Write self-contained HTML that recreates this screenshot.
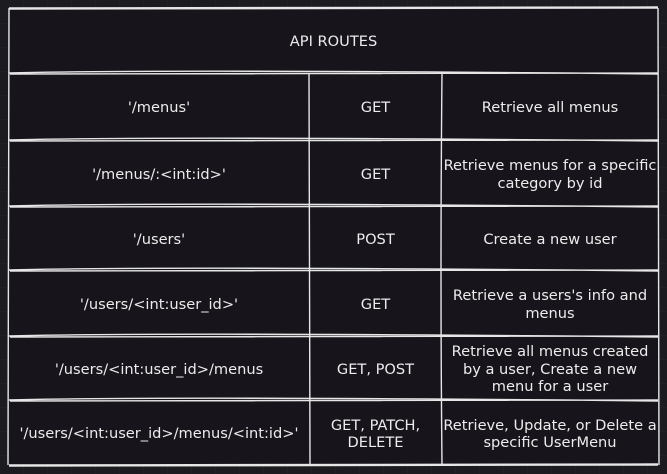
<!DOCTYPE html>
<html><head><style>
html,body{margin:0;padding:0;background:#1c1b20;width:667px;height:474px;overflow:hidden}
.c{position:absolute;display:flex;align-items:center;justify-content:center;text-align:center;color:#ececec;font:14.6px/17.5px "DejaVu Sans",sans-serif;white-space:nowrap;padding-top:3px;box-sizing:border-box}
</style></head><body>
<svg width="667" height="474" style="position:absolute;left:0;top:0">
<defs><pattern id="g" width="24" height="24" patternUnits="userSpaceOnUse"><path d="M24 0V24H0" fill="none" stroke="#26252b" stroke-width="1"/></pattern></defs>
<rect width="667" height="474" fill="url(#g)"/>
<rect x="9" y="8" width="649" height="457" fill="#17151b"/>
<g stroke="#e6e6e6" stroke-width="1.4" fill="none">
<path d="M9 8 L658 7 M9 9 L658 8"/>
<path d="M9 8 L8 465 M658 8 L659 465"/>
<path d="M9 465 L658 464 M9 466 L658 465"/>
<path d="M9 73 Q170 69 658 74 M10 74 L658 73"/>
<path d="M9 140 Q170 136 658 141 M10 141 L658 140"/>
<path d="M9 206 Q170 202 658 207 M10 207 L658 206"/>
<path d="M9 270 Q170 266 658 271 M10 271 L658 270"/>
<path d="M9 336 Q170 332 658 337 M10 337 L658 336"/>
<path d="M9 400 Q170 396 658 401 M10 401 L658 400"/>
<path d="M309 73 L310 465 M442 73 Q440 270 442 465"/>
</g>
</svg>
<div class="c" style="left:9px;top:8px;width:649px;height:65px">API ROUTES</div>
<div class="c" style="left:9px;top:73px;width:300px;height:67px">'/menus'</div>
<div class="c" style="left:309px;top:73px;width:133px;height:67px">GET</div>
<div class="c" style="left:442px;top:73px;width:216px;height:67px">Retrieve all menus</div>
<div class="c" style="left:9px;top:140px;width:300px;height:66px">'/menus/:&lt;int:id&gt;'</div>
<div class="c" style="left:309px;top:140px;width:133px;height:66px">GET</div>
<div class="c" style="left:442px;top:140px;width:216px;height:66px">Retrieve menus for a specific<br>category by id</div>
<div class="c" style="left:9px;top:206px;width:300px;height:64px">'/users'</div>
<div class="c" style="left:309px;top:206px;width:133px;height:64px">POST</div>
<div class="c" style="left:442px;top:206px;width:216px;height:64px">Create a new user</div>
<div class="c" style="left:9px;top:270px;width:300px;height:66px">'/users/&lt;int:user_id&gt;'</div>
<div class="c" style="left:309px;top:270px;width:133px;height:66px">GET</div>
<div class="c" style="left:442px;top:270px;width:216px;height:66px">Retrieve a users's info and<br>menus</div>
<div class="c" style="left:9px;top:336px;width:300px;height:64px">'/users/&lt;int:user_id&gt;/menus</div>
<div class="c" style="left:309px;top:336px;width:133px;height:64px">GET, POST</div>
<div class="c" style="left:442px;top:336px;width:216px;height:64px">Retrieve all menus created<br>by a user, Create a new<br>menu for a user</div>
<div class="c" style="left:9px;top:400px;width:300px;height:65px">'/users/&lt;int:user_id&gt;/menus/&lt;int:id&gt;'</div>
<div class="c" style="left:309px;top:400px;width:133px;height:65px">GET, PATCH,<br>DELETE</div>
<div class="c" style="left:442px;top:400px;width:216px;height:65px">Retrieve, Update, or Delete a<br>specific UserMenu</div>
</body></html>
